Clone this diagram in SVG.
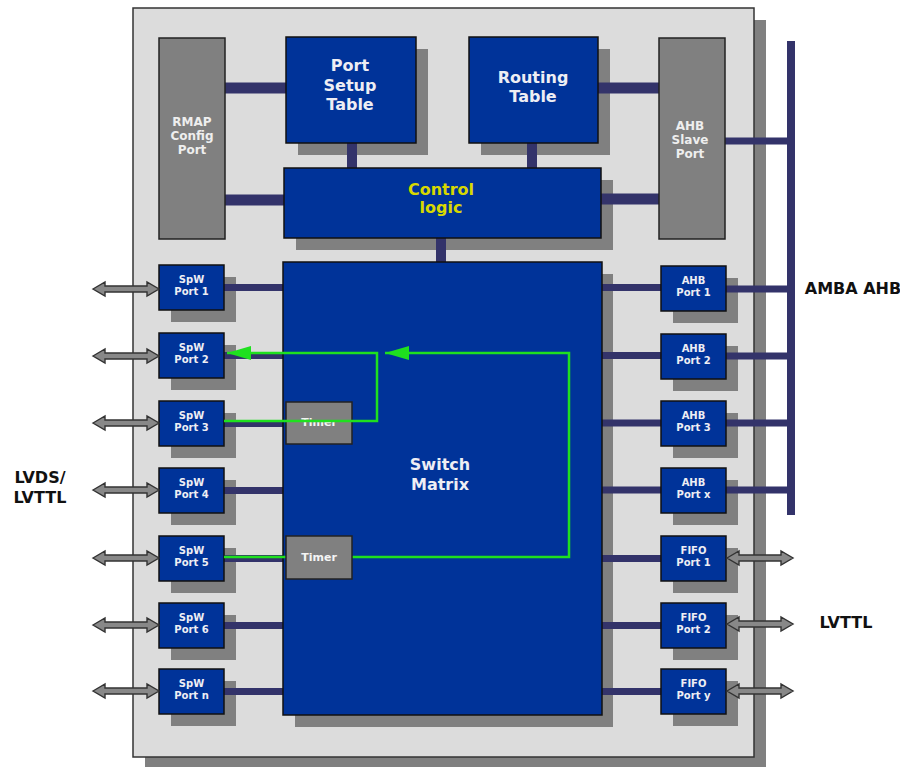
<svg xmlns="http://www.w3.org/2000/svg" width="900" height="767" viewBox="0 0 900 767">
<defs>
<style>
.shadow{fill:#808080}
.blue{fill:#003399;stroke:#111;stroke-width:1.5}
.gray{fill:#808080;stroke:#222;stroke-width:1.5}
.chip{fill:#dcdcdc;stroke:#333;stroke-width:1.5}
.bus{stroke:#33336a;fill:none}
.green{stroke:#1fe01f;stroke-width:2.5;fill:none}
text{font-family:"DejaVu Sans","Liberation Sans",sans-serif;font-weight:bold;text-anchor:middle}
.big{font-size:16px;fill:#eeeef4}
.ctl{font-size:16px;fill:#d8d800}
.mid{font-size:12px;fill:#eeeeee}
.sm{font-size:10px;fill:#eeeef4}
.tm{font-size:11px;fill:#f4f4f4}
.lbl{font-size:16px;fill:#111}
.dbl{fill:#888;stroke:#333;stroke-width:1.4}
</style>
<path id="darrow" d="M0,0 L12,-7 L12,-3 L54,-3 L54,-7 L66,0 L54,7 L54,3 L12,3 L12,7 Z"/>
<marker id="tri" markerUnits="userSpaceOnUse" markerWidth="26" markerHeight="16" refX="24" refY="7" orient="auto">
<path d="M0,0 L24,7 L0,14 Z" fill="#1fe01f"/>
</marker>
</defs>

<g id="chip">
<rect x="145" y="20" width="621" height="749" fill="#808080"/>
<rect class="chip" x="133" y="8" width="621" height="749"/>
</g>

<g id="shadows" class="shadow">
<rect x="298" y="49" width="130" height="106"/>
<rect x="481" y="49" width="129" height="106"/>
<rect x="296" y="180" width="317" height="70"/>
<rect x="295" y="274" width="318" height="453"/>
<rect x="171" y="277" width="65" height="45"/>
<rect x="171" y="345" width="65" height="45"/>
<rect x="171" y="413" width="65" height="45"/>
<rect x="171" y="480" width="65" height="45"/>
<rect x="171" y="548" width="65" height="45"/>
<rect x="171" y="615" width="65" height="45"/>
<rect x="171" y="681" width="65" height="45"/>
<rect x="673" y="278" width="65" height="45"/>
<rect x="673" y="346" width="65" height="45"/>
<rect x="673" y="413" width="65" height="45"/>
<rect x="673" y="480" width="65" height="45"/>
<rect x="673" y="548" width="65" height="45"/>
<rect x="673" y="615" width="65" height="45"/>
<rect x="673" y="681" width="65" height="45"/>
</g>

<g id="connectors" class="bus">
<path d="M225,88 H286 M225,200 H284 M598,88 H659 M601,199 H659" stroke-width="11"/>
<path d="M352,143 V168 M532,143 V168 M441,238 V262" stroke-width="10"/>
<path d="M791,41 V515" stroke-width="8"/>
<path d="M725,141 H791" stroke-width="7"/>
<path d="M224,287.5 H283 M224,355.5 H283 M224,423.5 H283 M224,490.5 H283 M224,558.5 H283 M224,625.5 H283 M224,691.5 H283" stroke-width="7"/>
<path d="M602,287.5 H661 M602,355.5 H661 M602,423 H661 M602,490 H661 M602,558.5 H661 M602,625.5 H661 M602,691.5 H661" stroke-width="7"/>
<path d="M726,289 H791 M726,356 H791 M726,423 H791 M726,490 H791" stroke-width="7"/>
</g>

<g id="rmap">
<rect class="gray" x="159" y="38" width="66" height="201"/>
<text class="mid" x="192" y="126">RMAP</text>
<text class="mid" x="192" y="140">Config</text>
<text class="mid" x="192" y="154">Port</text>
</g>
<g id="port-setup-table">
<rect class="blue" x="286" y="37" width="130" height="106"/>
<text class="big" x="350" y="71">Port</text>
<text class="big" x="350" y="91">Setup</text>
<text class="big" x="350" y="110">Table</text>
</g>
<g id="routing-table">
<rect class="blue" x="469" y="37" width="129" height="106"/>
<text class="big" x="533" y="83">Routing</text>
<text class="big" x="533" y="102">Table</text>
</g>
<g id="ahb-slave">
<rect class="gray" x="659" y="38" width="66" height="201"/>
<text class="mid" x="690" y="130">AHB</text>
<text class="mid" x="690" y="144">Slave</text>
<text class="mid" x="690" y="158">Port</text>
</g>
<g id="control-logic">
<rect class="blue" x="284" y="168" width="317" height="70"/>
<text class="ctl" x="441" y="195">Control</text>
<text class="ctl" x="441" y="213">logic</text>
</g>
<g id="switch-matrix">
<rect class="blue" x="283" y="262" width="319" height="453"/>
<text class="big" x="440" y="470">Switch</text>
<text class="big" x="440" y="490">Matrix</text>
</g>

<g id="spw1"><rect class="blue" x="159" y="265" width="65" height="45"/><text class="sm" x="191.5" y="283">SpW</text><text class="sm" x="191.5" y="295">Port 1</text></g>
<g id="spw2"><rect class="blue" x="159" y="333" width="65" height="45"/><text class="sm" x="191.5" y="351">SpW</text><text class="sm" x="191.5" y="363">Port 2</text></g>
<g id="spw3"><rect class="blue" x="159" y="401" width="65" height="45"/><text class="sm" x="191.5" y="419">SpW</text><text class="sm" x="191.5" y="431">Port 3</text></g>
<g id="spw4"><rect class="blue" x="159" y="468" width="65" height="45"/><text class="sm" x="191.5" y="486">SpW</text><text class="sm" x="191.5" y="498">Port 4</text></g>
<g id="spw5"><rect class="blue" x="159" y="536" width="65" height="45"/><text class="sm" x="191.5" y="554">SpW</text><text class="sm" x="191.5" y="566">Port 5</text></g>
<g id="spw6"><rect class="blue" x="159" y="603" width="65" height="45"/><text class="sm" x="191.5" y="621">SpW</text><text class="sm" x="191.5" y="633">Port 6</text></g>
<g id="spwn"><rect class="blue" x="159" y="669" width="65" height="45"/><text class="sm" x="191.5" y="687">SpW</text><text class="sm" x="191.5" y="699">Port n</text></g>

<g id="ahb1"><rect class="blue" x="661" y="266" width="65" height="45"/><text class="sm" x="693.5" y="284">AHB</text><text class="sm" x="693.5" y="296">Port 1</text></g>
<g id="ahb2"><rect class="blue" x="661" y="334" width="65" height="45"/><text class="sm" x="693.5" y="352">AHB</text><text class="sm" x="693.5" y="364">Port 2</text></g>
<g id="ahb3"><rect class="blue" x="661" y="401" width="65" height="45"/><text class="sm" x="693.5" y="419">AHB</text><text class="sm" x="693.5" y="431">Port 3</text></g>
<g id="ahbx"><rect class="blue" x="661" y="468" width="65" height="45"/><text class="sm" x="693.5" y="486">AHB</text><text class="sm" x="693.5" y="498">Port x</text></g>
<g id="fifo1"><rect class="blue" x="661" y="536" width="65" height="45"/><text class="sm" x="693.5" y="554">FIFO</text><text class="sm" x="693.5" y="566">Port 1</text></g>
<g id="fifo2"><rect class="blue" x="661" y="603" width="65" height="45"/><text class="sm" x="693.5" y="621">FIFO</text><text class="sm" x="693.5" y="633">Port 2</text></g>
<g id="fifoy"><rect class="blue" x="661" y="669" width="65" height="45"/><text class="sm" x="693.5" y="687">FIFO</text><text class="sm" x="693.5" y="699">Port y</text></g>

<g id="timer1"><rect class="gray" x="286" y="402" width="66" height="42"/><text class="tm" x="319" y="426">Timer</text></g>

<g id="green-paths">
<path class="green" d="M224,421 H377 V353 H227" marker-end="url(#tri)"/>
<path class="green" d="M224,557 H288"/>
<path class="green" d="M350,557 H569 V353 H385" marker-end="url(#tri)"/>
</g>

<g id="timer2"><rect class="gray" x="286" y="536" width="66" height="43"/><text class="tm" x="319" y="561">Timer</text></g>

<g id="io-arrows" class="dbl">
<use href="#darrow" x="93" y="289"/>
<use href="#darrow" x="93" y="356"/>
<use href="#darrow" x="93" y="423"/>
<use href="#darrow" x="93" y="490"/>
<use href="#darrow" x="93" y="558"/>
<use href="#darrow" x="93" y="625"/>
<use href="#darrow" x="93" y="691"/>
<use href="#darrow" x="727" y="558"/>
<use href="#darrow" x="727" y="624"/>
<use href="#darrow" x="727" y="691"/>
</g>

<g id="labels">
<text class="lbl" x="853" y="294">AMBA AHB</text>
<text class="lbl" x="846" y="628">LVTTL</text>
<text class="lbl" x="40" y="483">LVDS/</text>
<text class="lbl" x="40" y="503">LVTTL</text>
</g>
</svg>
